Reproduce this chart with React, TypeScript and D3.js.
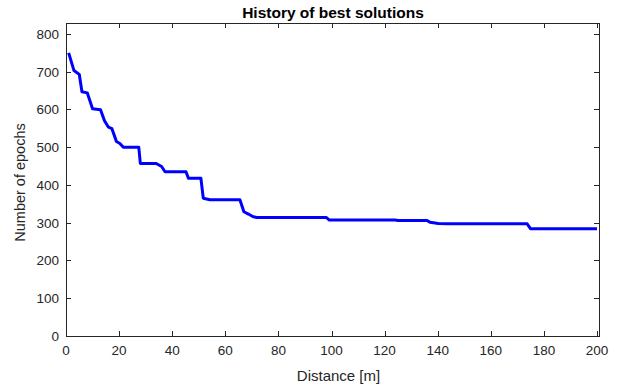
import { useEffect, useRef } from "react";
import * as d3 from "d3";

const distance = [1, 3, 5, 6, 8, 10, 13, 14.5, 16, 17.3, 19, 20.3, 21.6, 27.4, 28, 34, 36, 37.3, 45.2, 46.1, 50.8, 51.7, 54.2, 65.5, 67, 68.7, 70.5, 71.8, 98, 99.2, 124, 125, 136, 137.1, 140.2, 144, 173.7, 175, 200];
const epochs = [750, 703, 693, 647, 644, 602, 599, 570, 553, 549, 515, 510, 500, 500, 457, 457, 449, 435, 435, 418, 418, 365, 361, 361, 329, 323, 316, 314, 314, 307, 307, 306, 306, 301, 298, 297, 297, 284, 284];
const xTicks = [0, 20, 40, 60, 80, 100, 120, 140, 160, 180, 200];
const yTicks = [0, 100, 200, 300, 400, 500, 600, 700, 800];

const App = () => {
  const ref = useRef<SVGSVGElement | null>(null);

  useEffect(() => {
    const svg = d3.select(ref.current);
    svg.selectAll("*").remove();

    const width = 618;
    const height = 387;
    const left = 66, right = 599, top = 23, bottom = 336;
    const axisColor = "#262626";
    const font = "'Liberation Sans', Arial, sans-serif";

    const x = d3.scaleLinear().domain([0, 200.75]).range([left, right]);
    const y = d3.scaleLinear().domain([0, 829]).range([bottom, top]);

    svg.append("rect").attr("width", width).attr("height", height).attr("fill", "#fff");

    // data line
    const pts = distance.map((d, i) => [d, epochs[i]] as [number, number]);
    svg.append("path")
      .datum(pts)
      .attr("fill", "none")
      .attr("stroke", "#0000ff")
      .attr("stroke-width", 3)
      .attr("stroke-linejoin", "round")
      .attr("d", d3.line<[number, number]>().x((d) => x(d[0])).y((d) => y(d[1])));

    // box
    svg.append("rect")
      .attr("x", left).attr("y", top)
      .attr("width", right - left).attr("height", bottom - top)
      .attr("fill", "none").attr("stroke", axisColor).attr("stroke-width", 1)
      .attr("shape-rendering", "crispEdges");

    const tk = 5;
    xTicks.forEach((t) => {
      const px = Math.round(x(t)) + 0.5;
      svg.append("line").attr("x1", px).attr("x2", px).attr("y1", bottom).attr("y2", bottom - tk).attr("stroke", axisColor);
      svg.append("line").attr("x1", px).attr("x2", px).attr("y1", top).attr("y2", top + tk).attr("stroke", axisColor);
      svg.append("text").attr("x", x(t)).attr("y", bottom + 19)
        .attr("text-anchor", "middle").attr("font-family", font).attr("font-size", 13.5)
        .attr("fill", axisColor).text(t);
    });
    yTicks.forEach((t) => {
      const py = Math.round(y(t)) + 0.5;
      svg.append("line").attr("x1", left).attr("x2", left + tk).attr("y1", py).attr("y2", py).attr("stroke", axisColor);
      svg.append("line").attr("x1", right).attr("x2", right - tk).attr("y1", py).attr("y2", py).attr("stroke", axisColor);
      svg.append("text").attr("x", left - 7).attr("y", y(t) + 5)
        .attr("text-anchor", "end").attr("font-family", font).attr("font-size", 13.5)
        .attr("fill", axisColor).text(t);
    });

    svg.append("text").attr("x", (left + right) / 2 + 0.5).attr("y", 18)
      .attr("text-anchor", "middle").attr("font-family", font).attr("font-size", 15.5)
      .attr("font-weight", "bold").attr("fill", "#000").text("History of best solutions");

    svg.append("text").attr("x", (left + right) / 2 + 6).attr("y", 381)
      .attr("text-anchor", "middle").attr("font-family", font).attr("font-size", 15)
      .attr("fill", axisColor).text("Distance [m]");

    svg.append("text")
      .attr("transform", `translate(25,${(top + bottom) / 2 + 3}) rotate(-90)`)
      .attr("text-anchor", "middle").attr("font-family", font).attr("font-size", 14.5)
      .attr("fill", axisColor).text("Number of epochs");
  }, []);

  return (
    <svg ref={ref} width={618} height={387}
      style={{ position: "absolute", left: 0, top: 0, display: "block" }} />
  );
};

export default App;
